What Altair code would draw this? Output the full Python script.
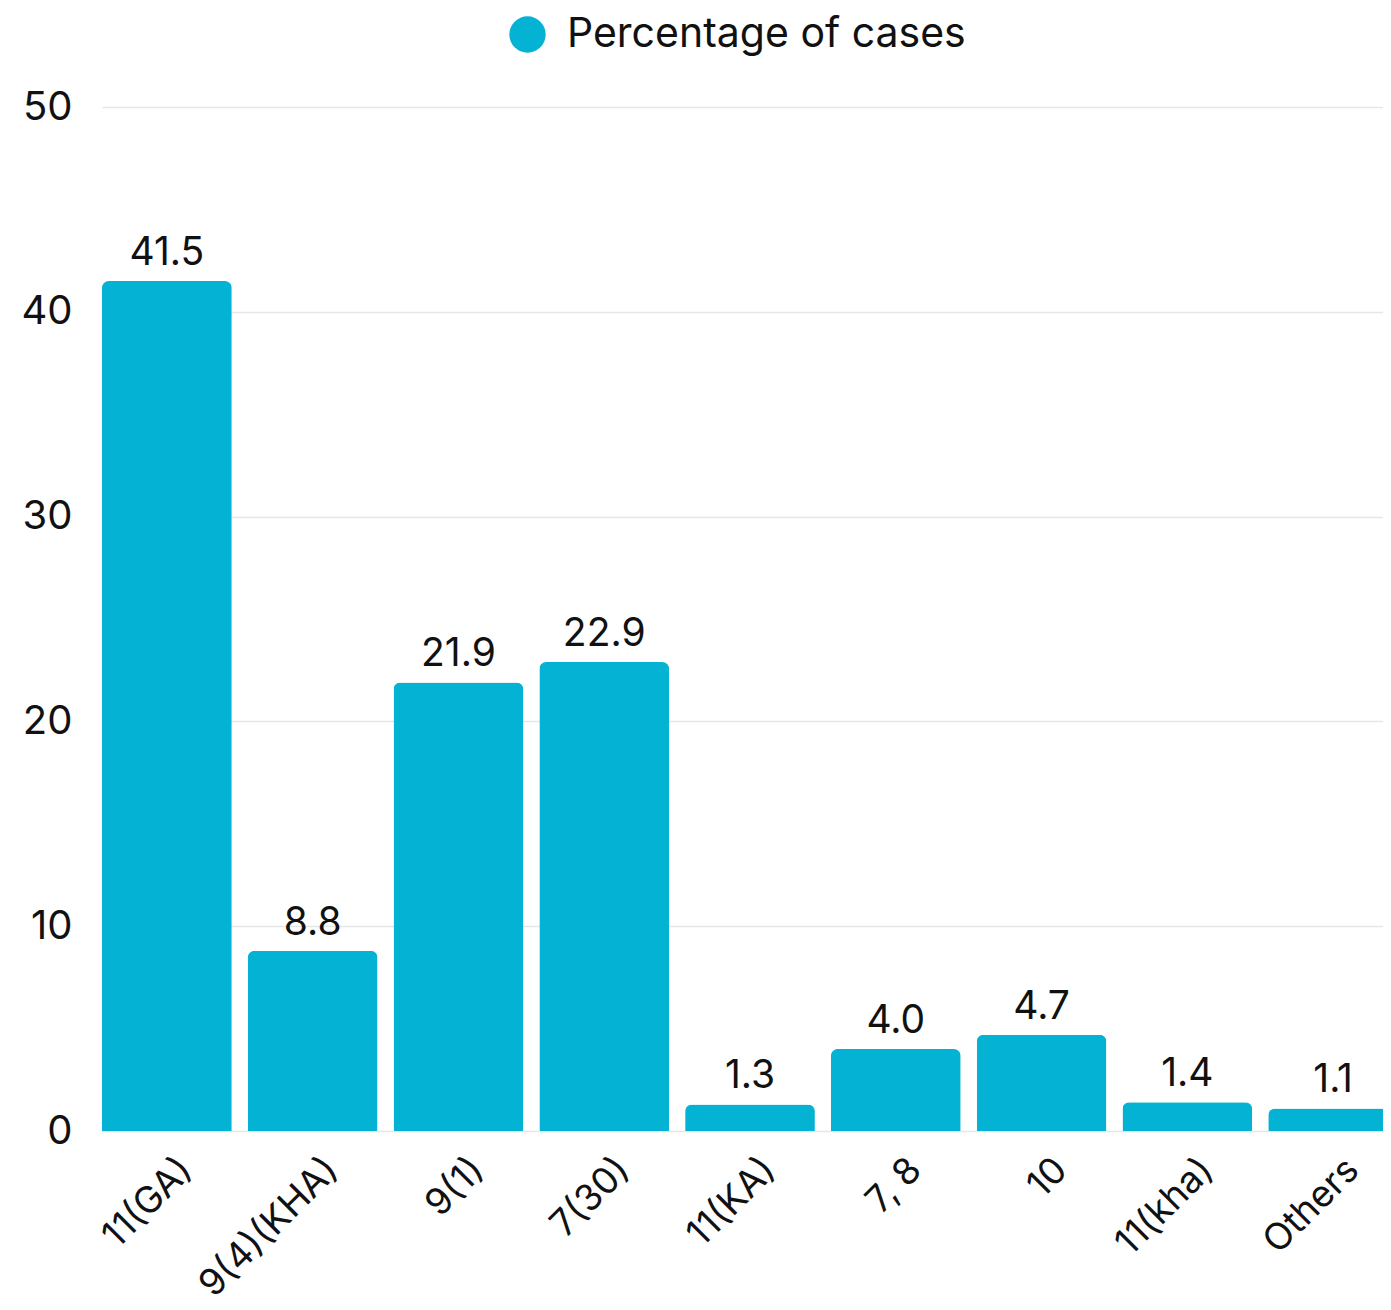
import altair as alt
import pandas as pd

categories = ["11(GA)", "9(4)(KHA)", "9(1)", "7(30)", "11(KA)", "7, 8", "10", "11(kha)", "Others"]
values = [41.5, 8.8, 21.9, 22.9, 1.3, 4.0, 4.7, 1.4, 1.1]
series_name = "Percentage of cases"
y_ticks = [0, 10, 20, 30, 40, 50]

BAR_COLOR = "#04b2d3"
FONT = "Inter"

df = pd.DataFrame({"category": categories, "value": values, "series": [series_name] * len(categories)})

x_enc = alt.X(
    "category:N",
    sort=categories,
    scale=alt.Scale(type="band", paddingInner=0.11, paddingOuter=0, range=[0, 1296]),
    axis=alt.Axis(
        title=None, labelAngle=-45, labelAlign="right", labelBaseline="middle",
        labelFontSize=37, labelColor="#111111", labelFont=FONT, labelPadding=33,
        labelOffset=20, labelLimit=400, ticks=False, domain=False, grid=False,
    ),
)
y_enc = alt.Y(
    "value:Q",
    scale=alt.Scale(domain=[0, 50]),
    axis=alt.Axis(
        title=None, values=y_ticks, labelFontSize=40, labelColor="#111111", labelFont=FONT,
        labelPadding=30, ticks=False, domain=False, grid=True, gridColor="#e6e6e6", gridWidth=1.5,
    ),
)

bars = alt.Chart(df).mark_bar(
    cornerRadiusTopLeft=7, cornerRadiusTopRight=7
).encode(
    x=x_enc,
    y=y_enc,
    color=alt.Color(
        "series:N",
        scale=alt.Scale(range=[BAR_COLOR]),
        legend=alt.Legend(
            title=None, orient="none", legendX=405, legendY=-93, symbolType="circle",
            symbolSize=1320, symbolStrokeWidth=0, labelFontSize=41, labelFont=FONT,
            labelColor="#111111", labelOffset=19, labelLimit=800,
        ),
    ),
)

labels = alt.Chart(df).mark_text(
    dy=-28, fontSize=39, font=FONT, color="#111111", baseline="middle"
).encode(
    x=alt.X("category:N", sort=categories),
    y=alt.Y("value:Q"),
    text=alt.Text("value:Q", format=".1f"),
)

chart = alt.layer(bars, labels).properties(
    width=1281, height=1024,
    autosize=alt.AutoSizeParams(type="none"),
    padding={"left": 94, "top": 99, "right": 0, "bottom": 171},
).configure_view(stroke=None)

chart.save("out.html", embed_options={"renderer": "svg", "actions": False})
